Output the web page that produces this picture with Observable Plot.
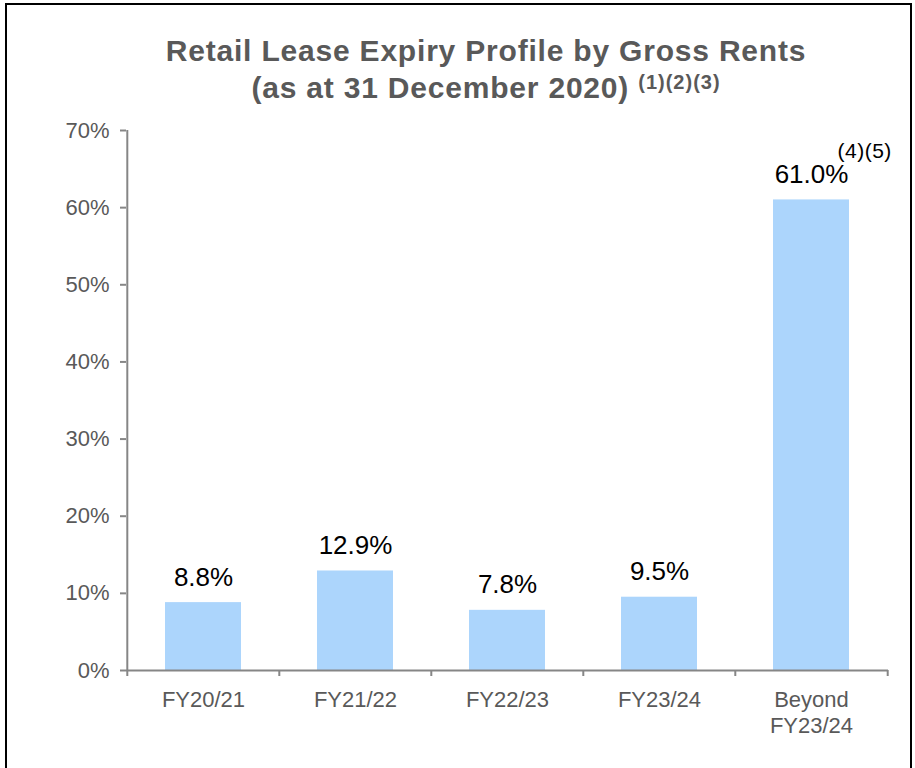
<!DOCTYPE html>
<html><head><meta charset="utf-8">
<script src="https://cdn.jsdelivr.net/npm/d3@7"></script>
<script src="https://cdn.jsdelivr.net/npm/@observablehq/plot@0.6"></script>
<style>
body{margin:0;background:#fff;font-family:"Liberation Sans",Arial,sans-serif;width:915px;height:768px;overflow:hidden;position:relative;}
#frame{position:absolute;left:5px;top:3px;width:907px;height:820px;border:2px solid #000;box-sizing:border-box;pointer-events:none;}
#title{position:absolute;left:0;top:32px;width:972px;text-align:center;font-weight:bold;font-size:30px;letter-spacing:0.8px;line-height:37px;color:#595959;}
#title sup{font-size:20px;letter-spacing:1px;vertical-align:9px;line-height:0;}
#chart{position:absolute;left:0;top:100px;}
</style></head>
<body>
<div id="title">Retail Lease Expiry Profile by Gross Rents<br>(as at 31 December 2020) <sup>(1)(2)(3)</sup></div>
<div id="chart"></div>
<div id="frame"></div>
<script>
const categories = ["FY20/21","FY21/22","FY22/23","FY23/24","Beyond FY23/24"];
const values = [8.8, 12.9, 7.8, 9.5, 61.0];
const valueLabels = ["8.8%","12.9%","7.8%","9.5%","61.0%"];
const notes = ["","","","","(4)(5)"];
const yTicks = [0,10,20,30,40,50,60,70];

const data = categories.map((c,i)=>({cat:c, value:values[i], label:valueLabels[i], note:notes[i]}));
const W=915, H=660, mL=126, mR=27, mT=30, mB=90;
const step = (W-mL-mR)/categories.length;
const axisGray = "#868686", textGray = "#595959";
const font = '"Liberation Sans", Arial, sans-serif';

const plot = Plot.plot({
  width:W, height:H, marginLeft:mL, marginRight:mR, marginTop:mT, marginBottom:mB,
  style:{fontFamily:font, background:"transparent", overflow:"visible"},
  x:{domain:categories, paddingInner:0.5, paddingOuter:0.25, axis:null, label:null},
  y:{domain:[0,70], axis:null, label:null},
  marks:[
    Plot.barY(data,{x:"cat", y:"value", fill:"#acd5fc"}),
    Plot.ruleY([0],{stroke:axisGray, strokeWidth:2}),
    Plot.ruleX([categories[0]],{x:d=>d, dx:-step/2, y1:0, y2:70, stroke:axisGray, strokeWidth:2}),
    Plot.axisY({ticks:yTicks, label:null, tickSize:6, tickPadding:11, tickFormat:d=>d+"%", fontSize:22, stroke:axisGray, fill:textGray, strokeWidth:2}),
    Plot.axisX({ticks:categories, label:null, tickSize:6, tickFormat:()=>"", dx:-step/2, stroke:axisGray, strokeWidth:2}),
    Plot.axisX({ticks:[categories[categories.length-1]], label:null, tickSize:6, tickFormat:()=>"", dx:step/2, stroke:axisGray, strokeWidth:2}),
    Plot.axisX({label:null, tickSize:0, tickPadding:18, fontSize:22, fill:textGray, lineHeight:1.18,
      tickFormat:d=>d.startsWith("Beyond") ? d.replace(" ","\n") : d}),
    Plot.text(data,{x:"cat", y:"value", text:"label", dy:-17, lineAnchor:"bottom", fontSize:26, fill:"#000"}),
    Plot.text(data,{x:"cat", y:"value", text:"note", dx:26, dy:-42, textAnchor:"start", lineAnchor:"bottom", fontSize:21, fill:"#000"})
  ]
});
d3.select(plot).selectAll("text").filter(function(){ return this.textContent === "(4)(5)"; }).style("letter-spacing","0.5px");
document.getElementById("chart").appendChild(plot);
</script>
</body></html>
